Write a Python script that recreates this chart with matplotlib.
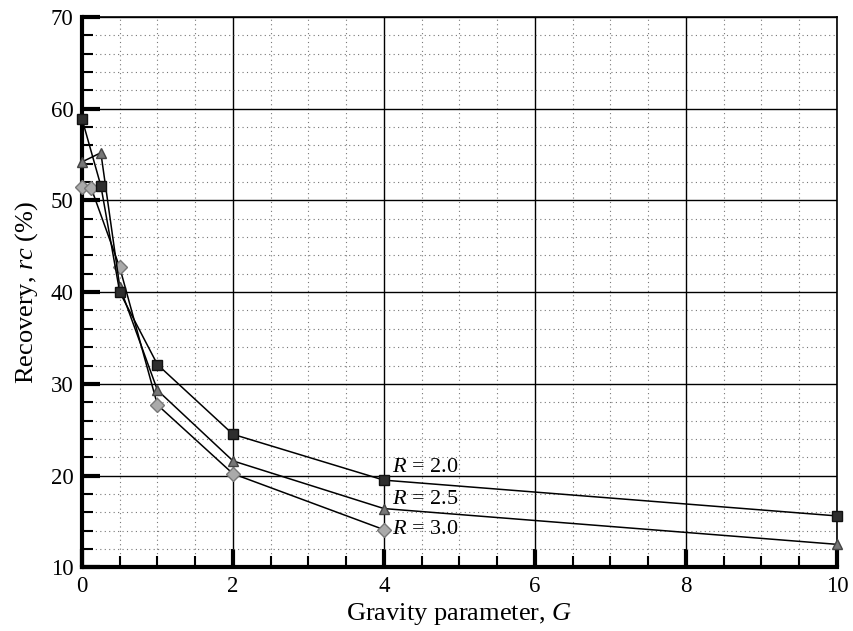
import numpy as np
import matplotlib.pyplot as plt
from matplotlib.ticker import MultipleLocator

plt.rcParams['font.family'] = ['Liberation Serif', 'DejaVu Serif']
plt.rcParams['mathtext.fontset'] = 'custom'
plt.rcParams['mathtext.it'] = 'Liberation Serif:italic'
plt.rcParams['mathtext.rm'] = 'Liberation Serif'

# R = 2.0
G20 = [0, 0.25, 0.5, 1, 2, 4, 10]
rc20 = [58.9, 51.6, 40.0, 32.1, 24.5, 19.5, 15.6]
# R = 2.5
G25 = [0, 0.25, 0.5, 1, 2, 4, 10]
rc25 = [54.2, 55.2, 40.6, 29.3, 21.6, 16.4, 12.5]
# R = 3.0
G30 = [0, 0.12, 0.5, 1, 2, 4]
rc30 = [51.5, 51.4, 42.7, 27.7, 20.2, 14.1]

labels = ['$R$ = 2.0', '$R$ = 2.5', '$R$ = 3.0']

fig = plt.figure(figsize=(8.54, 6.31), dpi=100)
ax = fig.add_axes([0.096, 0.101, 0.884, 0.872])

ax.plot(G20, rc20, color='black', lw=1.1, marker='s', ms=7.5,
        mfc='#2e2e2e', mec='#111111', zorder=5, clip_on=False)
ax.plot(G25, rc25, color='black', lw=1.1, marker='^', ms=7.5,
        mfc='#777777', mec='#444444', zorder=4, clip_on=False)
ax.plot(G30, rc30, color='black', lw=1.1, marker='D', ms=7,
        mfc='#aaaaaa', mec='#777777', zorder=3, clip_on=False)

ax.text(4.1, 20.4, labels[0], fontsize=16)
ax.text(4.1, 16.9, labels[1], fontsize=16)
ax.text(4.1, 13.6, labels[2], fontsize=16)

ax.set_xlim(0, 10)
ax.set_ylim(10, 70)
ax.xaxis.set_major_locator(MultipleLocator(2))
ax.xaxis.set_minor_locator(MultipleLocator(0.5))
ax.yaxis.set_major_locator(MultipleLocator(10))
ax.yaxis.set_minor_locator(MultipleLocator(2))

ax.grid(True, which='major', color='black', lw=1.0, ls='-')
ax.grid(True, which='minor', color='#777777', lw=0.8, ls=(0, (1, 3)))
ax.set_axisbelow(True)

ax.spines['left'].set_linewidth(3)
ax.spines['bottom'].set_linewidth(3)
ax.spines['top'].set_linewidth(1.2)
ax.spines['right'].set_linewidth(1.2)

ax.tick_params(which='major', direction='in', length=13, width=3,
               labelsize=16.5, pad=6, top=False, right=False)
ax.tick_params(which='minor', direction='in', length=8, width=1.5,
               top=False, right=False)

ax.set_xlabel('Gravity parameter, $G$', fontsize=19, labelpad=3)
ax.set_ylabel('Recovery, $rc$ (%)', fontsize=19, labelpad=8)

fig.savefig('out.png', dpi=100)
